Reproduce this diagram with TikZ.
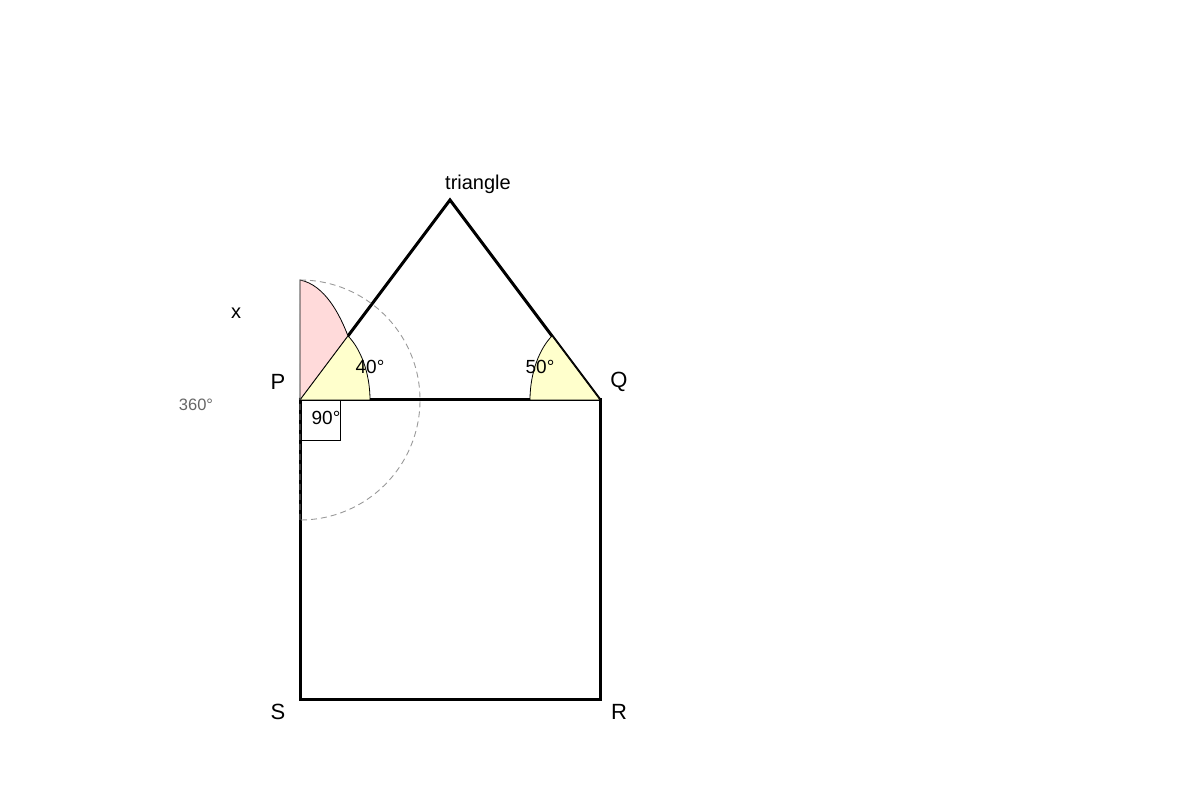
\documentclass[tikz,border=0pt]{standalone}
\usepackage{fontspec}
\setmainfont{Liberation Sans}
\usetikzlibrary{calc}
\definecolor{sectoryellow}{HTML}{FFFFCC}
\definecolor{sectorpink}{HTML}{FFDADA}
\definecolor{guidegray}{HTML}{999999}
\definecolor{labelgray}{HTML}{666666}

\begin{document}
\begin{tikzpicture}[x=1pt, y=1pt,
    edge/.style = {line width=3pt},
    sector/.style = {draw, line width=0.8pt},
    guide/.style = {draw=guidegray, line width=0.9pt, dash pattern=on 6pt off 4pt},
    vertex/.style = {font=\fontsize{22}{22}\selectfont},
    angle/.style = {font=\fontsize{19}{19}\selectfont, inner sep=0pt}]
    \useasboundingbox (0,0) rectangle (1200,800);
    % Points
    \coordinate (P) at (300,400);
    \coordinate (Q) at (600,400);
    \coordinate (R) at (600,100);
    \coordinate (S) at (300,100);
    \coordinate (T) at (450,600);
    \coordinate (A) at ($(P)!0.32!(T)$);
    \coordinate (B) at ($(Q)!0.32!(T)$);

    % Edges
    \draw[edge] (P) -- (Q) -- (R) -- (S) -- cycle;
    \draw[edge] (P) -- (T) -- (Q);

    % Angle sectors
    \draw[sector, fill=sectorpink] (P) -- (300,520) .. controls (325,515) and (340,485) .. (A) -- cycle;
    \draw[sector, fill=sectoryellow] (P) -- (370,400) .. controls (370,428) and (360,452) .. (A) -- cycle;
    \draw[sector, fill=sectoryellow] (Q) -- (530,400) .. controls (530,428) and (540,452) .. (B) -- cycle;
    \draw[line width=0.8pt] (P) rectangle (340,360);
    \draw[guide] (300,280) -- (300,520) arc[start angle=90, end angle=-90, radius=120];

    % Labels
    \node[vertex] (lP) at (278,418) {P};
    \node[vertex] (lQ) at (619,418) {Q};
    \node[vertex] (lR) at (619,88) {R};
    \node[vertex] (lS) at (278,88) {S};
    \node[font=\fontsize{20}{20}\selectfont] (lT) at (478,616) {triangle};
    \node[font=\fontsize{20}{20}\selectfont] (lx) at (236,487) {x};
    \node[font=\fontsize{16.5}{16.5}\selectfont, text=labelgray] (lfull) at (196,395) {360°};
    \node[angle] (aP) at (370,433) {40°};
    \node[angle] (aQ) at (540,433) {50°};
    \node[angle] (aR) at (326,382) {90°};

\end{tikzpicture}
\end{document}
